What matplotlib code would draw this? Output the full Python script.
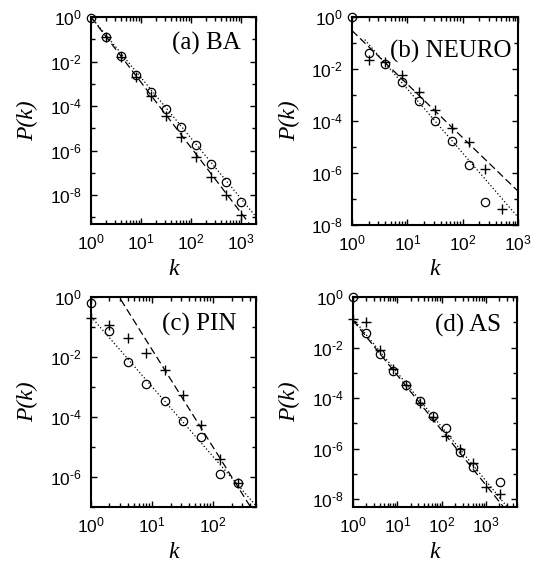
import numpy as np
import matplotlib
matplotlib.use("Agg")
import matplotlib.pyplot as plt
from matplotlib.ticker import FixedLocator, FuncFormatter, LogLocator, NullFormatter

plt.rcParams['font.family'] = ['Liberation Sans', 'DejaVu Sans']
plt.rcParams['mathtext.fontset'] = 'custom'
plt.rcParams['mathtext.rm'] = 'Liberation Sans'

# ---------------- data ----------------
# (a) BA
a_circ_k = [1, 2, 4, 8, 16, 32, 64, 128, 256, 512, 1024]
a_circ_p = [0.9, 0.12, 0.017, 2.5e-3, 4.4e-4, 7.2e-5, 1.1e-5, 1.8e-6, 2.4e-7, 4.0e-8, 4.8e-9]
a_plus_k = [2, 4, 8, 16, 32, 64, 128, 256, 512, 1024]
a_plus_p = [0.12, 0.016, 2.1e-3, 2.9e-4, 3.6e-5, 4.2e-6, 5.2e-7, 6.6e-8, 1.0e-8, 1.3e-9]
a_dot_k = [1, 2000]
a_dot_p = [1.0, 1.05e-9]
a_dash_k = [1, 2000]
a_dash_p = [1.0, 2.1e-10]

# (b) NEURO
b_circ_k = [1, 2, 4, 8, 16, 32, 64, 128, 256]
b_circ_p = [1.0, 0.043, 0.015, 3.2e-3, 5.8e-4, 1.0e-4, 1.7e-5, 2.0e-6, 7.6e-8]
b_plus_k = [2, 4, 8, 16, 32, 64, 128, 256, 512]
b_plus_p = [0.022, 0.019, 6.1e-3, 1.3e-3, 2.7e-4, 5.4e-5, 1.6e-5, 1.4e-6, 4.2e-8]
b_dot_k = [1.7, 1000]
b_dot_p = [0.135, 2.0e-8]
b_dash_k = [1, 1000]
b_dash_p = [0.30, 2.0e-7]

# (c) PIN
c_circ_k = [1, 2, 4, 8, 16, 32, 64, 128, 256]
c_circ_p = [0.62, 0.074, 7.0e-3, 1.3e-3, 3.4e-4, 7.5e-5, 2.2e-5, 1.3e-6, 6.5e-7]
c_plus_k = [1, 2, 4, 8, 16, 32, 64, 128, 256]
c_plus_p = [0.2, 0.12, 0.043, 0.014, 3.8e-3, 5.5e-4, 5.5e-5, 4.1e-6, 6.5e-7]
c_dot_k = [1, 500]
c_dot_p = [0.22, 1.1e-7]
c_dash_k = [1, 500]
c_dash_p = [31.6, 5.1e-8]

# (d) AS
d_circ_k = [1, 2, 4, 8, 16, 32, 64, 128, 256, 512, 2048]
d_circ_p = [1.0, 0.038, 5.8e-3, 1.2e-3, 3.2e-4, 7.6e-5, 1.9e-5, 6.5e-6, 7.5e-7, 1.9e-7, 4.7e-8]
d_plus_k = [1, 2, 4, 8, 16, 32, 64, 128, 256, 512, 1024, 2048]
d_plus_p = [0.13, 0.10, 7.9e-3, 1.4e-3, 3.4e-4, 6.2e-5, 1.8e-5, 3.3e-6, 1.0e-6, 2.8e-7, 3.2e-8, 1.6e-8]
d_dot_k = [1, 5000]
d_dot_p = [0.14, 1.7e-9]
d_dash_k = [1, 5000]
d_dash_p = [0.12, 1.1e-9]

panel_titles = ['(a) BA', '(b) NEURO', '(c) PIN', '(d) AS']

# ---------------- layout ----------------
W, H = 541, 561
fig = plt.figure(figsize=(W / 100, H / 100), dpi=100)

def rect(l, r, t, b):
    return [l / W, (H - b) / H, (r - l) / W, (b - t) / H]

panels = [
    dict(rect=rect(91, 256, 17, 224), xlim=(1, 2000), ylim=(5e-10, 1.0),
         circ=(a_circ_k, a_circ_p), plus=(a_plus_k, a_plus_p),
         dot=(a_dot_k, a_dot_p), dash=(a_dash_k, a_dash_p),
         ymaj=[0, -2, -4, -6, -8], ymin=[-1, -3, -5, -7, -9],
         title_xy=(241, 43), label_x=28, klabel_y=270),
    dict(rect=rect(352, 518, 17, 225), xlim=(1, 1000), ylim=(1e-8, 1.0),
         circ=(b_circ_k, b_circ_p), plus=(b_plus_k, b_plus_p),
         dot=(b_dot_k, b_dot_p), dash=(b_dash_k, b_dash_p),
         ymaj=[0, -2, -4, -6, -8], ymin=[-1, -3, -5, -7],
         title_xy=(511, 51), label_x=290, klabel_y=270),
    dict(rect=rect(91, 256, 297, 507), xlim=(1, 500), ylim=(1e-7, 1.0),
         circ=(c_circ_k, c_circ_p), plus=(c_plus_k, c_plus_p),
         dot=(c_dot_k, c_dot_p), dash=(c_dash_k, c_dash_p),
         ymaj=[0, -2, -4, -6], ymin=[-1, -3, -5, -7],
         title_xy=(236, 324), label_x=28, klabel_y=552),
    dict(rect=rect(353, 517, 297, 507), xlim=(1, 5000), ylim=(5e-9, 1.0),
         circ=(d_circ_k, d_circ_p), plus=(d_plus_k, d_plus_p),
         dot=(d_dot_k, d_dot_p), dash=(d_dash_k, d_dash_p),
         ymaj=[0, -2, -4, -6, -8], ymin=[-1, -3, -5, -7],
         title_xy=(501, 325), label_x=290, klabel_y=552),
]

def tick_label(v, pos):
    e = int(round(np.log10(v)))
    if e < 0:
        return r'$\mathregular{10^{\text{-}%d}}$' % (-e)
    return r'$\mathregular{10^{%d}}$' % e

fmt = FuncFormatter(tick_label)

for p, title in zip(panels, panel_titles):
    ax = fig.add_axes(p['rect'])
    ax.set_xscale('log')
    ax.set_yscale('log')
    ax.set_xlim(*p['xlim'])
    ax.set_ylim(*p['ylim'])

    ax.plot(p['dash'][0], p['dash'][1], color='black', lw=0.9,
            linestyle=(0, (6, 3)))
    ax.plot(p['dot'][0], p['dot'][1], color='black', lw=0.9,
            linestyle=(0, (1, 1.8)))
    ax.plot(p['circ'][0], p['circ'][1], linestyle='none', marker='o',
            markersize=6, markerfacecolor='none', markeredgecolor='black',
            markeredgewidth=0.9, clip_on=False)
    ax.plot(p['plus'][0], p['plus'][1], linestyle='none', marker='+',
            markersize=7, markeredgecolor='black', markeredgewidth=1.0,
            clip_on=False)

    ax.yaxis.set_major_locator(FixedLocator([10.0 ** e for e in p['ymaj']]))
    ax.yaxis.set_minor_locator(FixedLocator([10.0 ** e for e in p['ymin']]))
    ax.yaxis.set_major_formatter(fmt)
    ax.yaxis.set_minor_formatter(NullFormatter())
    ax.xaxis.set_major_locator(LogLocator(base=10, numticks=20))
    ax.xaxis.set_minor_locator(LogLocator(base=10, subs=np.arange(2, 10), numticks=20))
    ax.xaxis.set_major_formatter(fmt)
    ax.xaxis.set_minor_formatter(NullFormatter())

    ax.tick_params(which='both', direction='in', top=True, right=True,
                   width=1.0, labelsize=12.5, color='black')
    ax.tick_params(which='major', length=4.5)
    ax.tick_params(which='minor', length=2.8)
    ax.tick_params(axis='y', which='major', pad=6.5)
    ax.tick_params(axis='x', which='major', pad=6.0)
    for s in ax.spines.values():
        s.set_linewidth(1.5)

    tx, ty = p['title_xy']
    fig.text(tx / W, 1 - ty / H, title, ha='right', va='center',
             family='Liberation Serif', fontsize=18)
    ymid = p['rect'][1] + p['rect'][3] / 2
    fig.text(p['label_x'] / W, ymid, 'P(k)', rotation=90, ha='center',
             va='center', family='Liberation Serif', style='italic', fontsize=17)
    xmid = p['rect'][0] + p['rect'][2] / 2
    fig.text(xmid, 1 - p['klabel_y'] / H, 'k', ha='center', va='center',
             family='Liberation Serif', style='italic', fontsize=17)

fig.savefig('out.png', dpi=100)
